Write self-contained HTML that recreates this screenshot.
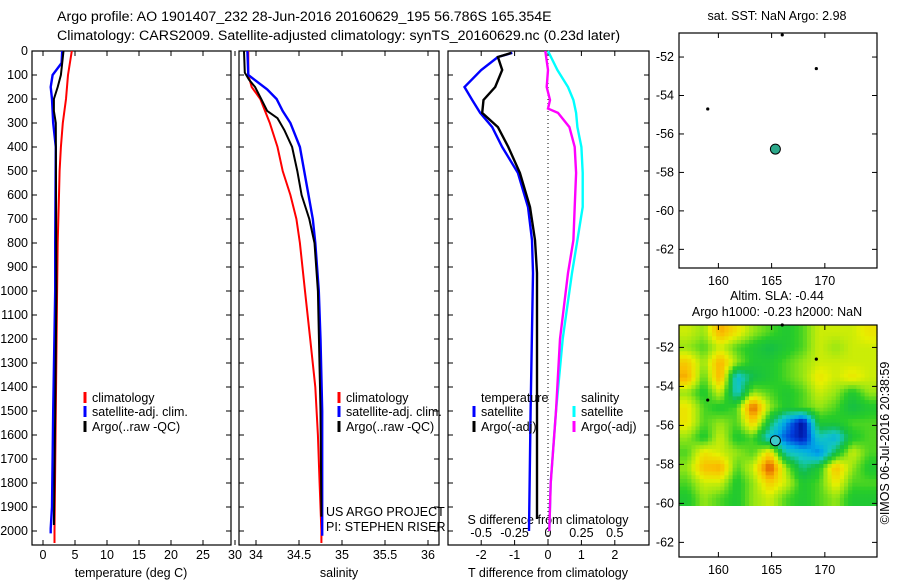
<!DOCTYPE html>
<html><head><meta charset="utf-8"><style>
body{margin:0;background:#fff;}
svg{display:block;font-family:"Liberation Sans",sans-serif;}
text{font-size:12.5px;fill:#000;}
text.ttl{font-size:14.2px;}
</style></head><body>
<svg id="c" width="900" height="580" viewBox="0 0 900 580" xmlns="http://www.w3.org/2000/svg">
<text class="ttl" x="57" y="21">Argo profile: AO 1901407_232 28-Jun-2016 20160629_195 56.786S 165.354E</text>
<text class="ttl" x="57" y="40">Climatology: CARS2009. Satellite-adjusted climatology: synTS_20160629.nc (0.23d later)</text>
</svg>
<script>
// ---------- data ----------
const depthTicks=[0,100,200,300,400,500,600,700,800,900,1000,1100,1200,1300,1400,1500,1600,1700,1800,1900,2000];
const tempTicks=[0,5,10,15,20,25,30];
const salTicks=[34,34.5,35,35.5,36];
const tdTicks=[-2,-1,0,1,2];
const sdTicks=[-0.5,-0.25,0,0.25,0.5];
const tClimD=[0,100,200,300,400,500,600,800,1000,1500,2000,2050];
const tClimV=[4.5,3.9,3.6,3.1,2.8,2.6,2.5,2.3,2.2,2.0,1.8,1.8];
const tSatD=[0,50,100,150,200,300,400,800,1000,1500,1900,1990,2010];
const tSatV=[3.0,2.9,1.5,1.2,1.4,1.6,2.0,1.9,1.9,1.6,1.4,1.2,1.2];
const tArgD=[0,50,100,150,200,250,300,1000,1500,1975];
const tArgV=[3.2,3.0,2.8,2.3,1.7,1.7,2.0,2.1,1.9,1.7];
const sClimD=[0,100,150,200,300,400,500,600,700,800,1000,1200,1400,1600,1800,2000,2050];
const sClimV=[33.91,33.91,33.95,34.05,34.16,34.25,34.31,34.40,34.47,34.51,34.57,34.63,34.69,34.72,34.74,34.76,34.76];
const sSatD=[0,100,160,200,250,300,400,500,600,700,800,1000,1200,1500,2000,2020];
const sSatV=[33.9,33.91,34.13,34.24,34.31,34.40,34.51,34.56,34.61,34.66,34.69,34.73,34.75,34.77,34.77,34.77];
const sArgD=[0,90,120,150,200,250,280,330,400,500,600,700,800,1000,1500,1940];
const sArgV=[33.86,33.87,33.92,33.99,34.06,34.13,34.25,34.33,34.42,34.48,34.53,34.62,34.68,34.72,34.75,34.76];
const dTSatD=[8,25,79,150,204,258,317,400,508,650,788,925,1500,2000];
const dTSatV=[-1.07,-1.5,-2.0,-2.5,-2.27,-2.03,-1.67,-1.37,-0.9,-0.6,-0.48,-0.45,-0.52,-0.57];
const dTArgD=[8,25,79,150,204,258,317,400,508,650,788,925,1500,1950];
const dTArgV=[-1.1,-1.5,-1.37,-1.58,-1.93,-1.97,-1.5,-1.19,-0.84,-0.54,-0.39,-0.33,-0.33,-0.33];
const dSArgD=[0,79,150,204,240,258,317,400,508,650,788,925,1200,1500,1800,2000];
const dSArgV=[-0.02,0,-0.01,0.015,0,0.075,0.16,0.2,0.21,0.2,0.19,0.15,0.09,0.06,0.02,0.01];
const dSSatD=[0,79,150,204,258,317,400,508,650,788,925,1200,1500,1800,2000];
const dSSatV=[0,0.07,0.15,0.19,0.21,0.22,0.25,0.26,0.26,0.22,0.18,0.11,0.06,0.02,0.01];
const lonTicks=[160,165,170];
const latTicks=[-52,-54,-56,-58,-60,-62];
const floatLon=165.354, floatLat=-56.786;
const otherFloatsLon=[166,169.2,159];
const otherFloatsLat=[-50.85,-52.6,-54.7];
const slaGrid=[
[0.3,0.2,0.6,0.4,0.2,0.1,0,0.1,0.3,0.3,0.3,0.4],
[0.2,0.1,0.3,0.1,0,-0.1,0,0.1,0.3,0.2,0.3,0.3],
[0.5,0.2,0.6,0.2,0,0,0.1,0.2,0.3,0.3,0.3,0.3],
[0.6,0.1,0.6,-0.4,-0.1,0,0.1,0.2,0.4,0.3,0.4,0.3],
[0.2,0,0.3,-0.35,0.2,0.1,0,0.1,0.3,0.2,0,0.2],
[0.4,0.1,0,0.1,0.8,0.2,0,0.1,0.2,0.1,-0.1,0],
[0.4,0.1,0.2,0.1,0.5,-0.1,-0.55,-0.95,0,0,0.1,0.1],
[0.2,0,0.3,0,0.1,-0.4,-0.7,-0.9,-0.3,-0.45,0,0.1],
[0.1,0.4,0.3,0.2,0.1,0.45,-0.3,-0.4,-0.6,-0.1,0.3,0.1],
[0.2,0.55,0.6,0.1,0.3,0.85,0.2,-0.2,0,0.55,0.2,0],
[0.1,0.3,0.3,0,0.2,0.5,0.3,0,0.1,0.4,0.1,0.1],
[0,0.2,0.1,0,0.2,0.3,0.1,0,0.1,0.2,0,0]];
// ---------- drawing ----------
const NS="http://www.w3.org/2000/svg", svg=document.getElementById('c');
function mk(tag,at,parent){const e=document.createElementNS(NS,tag);for(const k in at)e.setAttribute(k,at[k]);(parent||svg).appendChild(e);return e;}
function txt(x,y,s,anchor){const t=mk('text',{x:x,y:y,'text-anchor':anchor||'start'});t.textContent=s;return t;}
const Y0=51,Ybot=545;
const yD=d=>Y0+d*0.24;
function panel(name,x0,x1){
  const b=mk('rect',{x:x0,y:Y0,width:x1-x0,height:Ybot-Y0,fill:'none',stroke:'#000','stroke-width':1.2});
  
  
  depthTicks.forEach(d=>{mk('line',{x1:x0,x2:x0+5,y1:yD(d),y2:yD(d),stroke:'#000'});mk('line',{x1:x1,x2:x1-5,y1:yD(d),y2:yD(d),stroke:'#000'});});
}
function xticks(vals,fx,labels,ly){vals.forEach(v=>{const x=fx(v);mk('line',{x1:x,x2:x,y1:Ybot,y2:Ybot-5,stroke:'#000'});mk('line',{x1:x,x2:x,y1:Y0,y2:Y0+5,stroke:'#000'});if(labels){const t=txt(x,ly,String(v),'middle');}});}
function line(D,V,fx,col,name,w){
  let d='';for(let i=0;i<D.length;i++){d+=(i?'L':'M')+fx(V[i]).toFixed(1)+' '+yD(D[i]).toFixed(1);}
  const p=mk('path',{d:d,fill:'none',stroke:col,'stroke-width':w||2});
  
  
}
// panel 1
const xT=v=>43+6.4*v;
panel('temperature-panel',32,231);
depthTicks.forEach(d=>{const t=txt(28,yD(d)+4,String(d),'end');});
xticks(tempTicks,xT,true,559);
const t1=txt(131,577,'temperature (deg C)','middle');
line(tClimD,tClimV,xT,'#f00','temp-climatology-line');
line(tSatD,tSatV,xT,'#00f','temp-satellite-line',2.4);
line(tArgD,tArgV,xT,'#000','temp-argo-line');
// panel 2
const xS=v=>256+86*(v-34);
panel('salinity-panel',239,439);
xticks(salTicks,xS,true,559);
const t2=txt(339,577,'salinity','middle');
line(sClimD,sClimV,xS,'#f00','sal-climatology-line');
line(sSatD,sSatV,xS,'#00f','sal-satellite-line',2.4);
line(sArgD,sArgV,xS,'#000','sal-argo-line');
// panel 3
const xDT=v=>548+33.4*v, xDS=v=>548+133.6*v;
panel('difference-panel',448,649);
mk('line',{x1:548,x2:548,y1:Y0,y2:Ybot,stroke:'#000','stroke-dasharray':'1,3'});
xticks(tdTicks,xDT,true,559);
sdTicks.forEach(v=>{const t=txt(xDS(v),537,String(v),'middle');});
const t3=txt(548,577,'T difference from climatology','middle');
const t4=txt(548,524,'S difference from climatology','middle');
line(dTSatD,dTSatV,xDT,'#00f','t-diff-satellite-line',2.4);
line(dTArgD,dTArgV,xDT,'#000','t-diff-argo-line',2.4);
line(dSSatD,dSSatV,xDS,'#0ff','s-diff-satellite-line',2.4);
line(dSArgD,dSArgV,xDS,'#f0f','s-diff-argo-line',2.4);
// legends
function legend(x,y,col,label,name){mk('line',{x1:x,x2:x,y1:y-10,y2:y+1,stroke:col,'stroke-width':3});const t=txt(x+7,y,label);}
legend(85,402,'#f00','climatology','legend-climatology');
legend(85,416,'#00f','satellite-adj. clim.','legend-satellite');
legend(85,431,'#000','Argo(..raw -QC)','legend-argo');
legend(339,402,'#f00','climatology','legend-climatology-2');
legend(339,416,'#00f','satellite-adj. clim.','legend-satellite-2');
legend(339,431,'#000','Argo(..raw -QC)','legend-argo-2');
const lt=txt(481,402,'temperature');
legend(474,416,'#00f','satellite','legend-t-satellite');
legend(474,431,'#000','Argo(-adj)','legend-t-argo');
const ls=txt(581,402,'salinity');
legend(574,416,'#0ff','satellite','legend-s-satellite');
legend(574,431,'#f0f','Argo(-adj)','legend-s-argo');
const p1=txt(326,516,'US ARGO PROJECT');
const p2=txt(326,531,'PI: STEPHEN RISER');
// maps
function map(name,x0,x1,yTop,yBot,latTop,latBot,lonL,lonR){
  const fx=v=>x0+(v-lonL)/(lonR-lonL)*(x1-x0), fy=v=>yTop+(latTop-v)/(latTop-latBot)*(yBot-yTop);
  return {fx,fy,draw(){
    const r=mk('rect',{x:x0,y:yTop,width:x1-x0,height:yBot-yTop,fill:'none',stroke:'#000','stroke-width':1.2});
    
    
    lonTicks.forEach(v=>{const x=fx(v);mk('line',{x1:x,x2:x,y1:yBot,y2:yBot-5,stroke:'#000'});mk('line',{x1:x,x2:x,y1:yTop,y2:yTop+5,stroke:'#000'});const t=txt(x,yBot+17,String(v),'middle');});
    latTicks.forEach(v=>{const y=fy(v);mk('line',{x1:x0,x2:x0+5,y1:y,y2:y,stroke:'#000'});mk('line',{x1:x1,x2:x1-5,y1:y,y2:y,stroke:'#000'});const t=txt(x0-5,y+4,String(v),'end');});
  }};
}
const m1=map('sst-map',679,877,33,268,-50.75,-62.97,156.3,174.9);
const m2=map('sla-map',679,877,325,557,-50.85,-62.75,156.3,174.9);
// heatmap (bilinear refinement of the data grid)
function slaColor(v){
  const stops=[[-1,[0,0,130]],[-0.75,[0,60,220]],[-0.5,[0,170,230]],[-0.3,[20,200,190]],[-0.1,[20,190,70]],[0.05,[40,205,40]],[0.2,[150,230,20]],[0.35,[230,240,0]],[0.55,[250,190,0]],[0.75,[230,110,0]],[0.95,[170,40,0]]];
  if(v<=stops[0][0])return 'rgb('+stops[0][1]+')';
  for(let i=1;i<stops.length;i++){if(v<=stops[i][0]){const a=stops[i-1],b=stops[i],f=(v-a[0])/(b[0]-a[0]);return 'rgb('+a[1].map((c,k)=>Math.round(c+(b[1][k]-c)*f)).join(',')+')';}}
  return 'rgb('+stops[stops.length-1][1]+')';
}
const gLonL=156.3,gLonR=174.9,gLatT=-50.85,gLatB=-60.1;
const nr=slaGrid.length,nc=slaGrid[0].length,SUB=4;
function sample(r,c){ // r,c in grid-center coords
  r=Math.max(0,Math.min(nr-1,r));c=Math.max(0,Math.min(nc-1,c));
  const r0=Math.floor(r),c0=Math.floor(c),r1=Math.min(nr-1,r0+1),c1=Math.min(nc-1,c0+1),fr=r-r0,fc=c-c0;
  const g=slaGrid;
  return (g[r0][c0]*(1-fc)+g[r0][c1]*fc)*(1-fr)+(g[r1][c0]*(1-fc)+g[r1][c1]*fc)*fr;
}
const hm=mk('g',{});


for(let i=0;i<nr*SUB;i++)for(let j=0;j<nc*SUB;j++){
  const v=sample((i+0.5)/SUB-0.5,(j+0.5)/SUB-0.5);
  const xa=m2.fx(gLonL+(gLonR-gLonL)*j/(nc*SUB)),xb=m2.fx(gLonL+(gLonR-gLonL)*(j+1)/(nc*SUB));
  const ya=m2.fy(gLatT+(gLatB-gLatT)*i/(nr*SUB)),yb=m2.fy(gLatT+(gLatB-gLatT)*(i+1)/(nr*SUB));
  const c=mk('rect',{x:xa.toFixed(1),y:ya.toFixed(1),width:(xb-xa+0.6).toFixed(1),height:(yb-ya+0.6).toFixed(1),fill:slaColor(v)},hm);
  
  
}
m1.draw();m2.draw();
[m1,m2].forEach((m,k)=>{
  otherFloatsLon.forEach((lo,i)=>{const d=mk('circle',{cx:m.fx(lo),cy:m.fy(otherFloatsLat[i]),r:1.6,fill:'#000'});});
  const f=mk('circle',{cx:m.fx(floatLon),cy:m.fy(floatLat),r:5,fill:k?'#3cc8c8':'#2ca88a',stroke:'#000','stroke-width':1});
  
  
});
const mt1=txt(777,20,'sat. SST: NaN Argo: 2.98','middle');
const mt2=txt(777,300,'Altim. SLA: -0.44','middle');
const mt3=txt(777,316,'Argo h1000: -0.23 h2000: NaN','middle');
const cr=txt(0,0,'©IMOS 06-Jul-2016 20:38:59','middle');cr.setAttribute('transform','translate(889,443) rotate(-90)');
</script>
</body></html>
